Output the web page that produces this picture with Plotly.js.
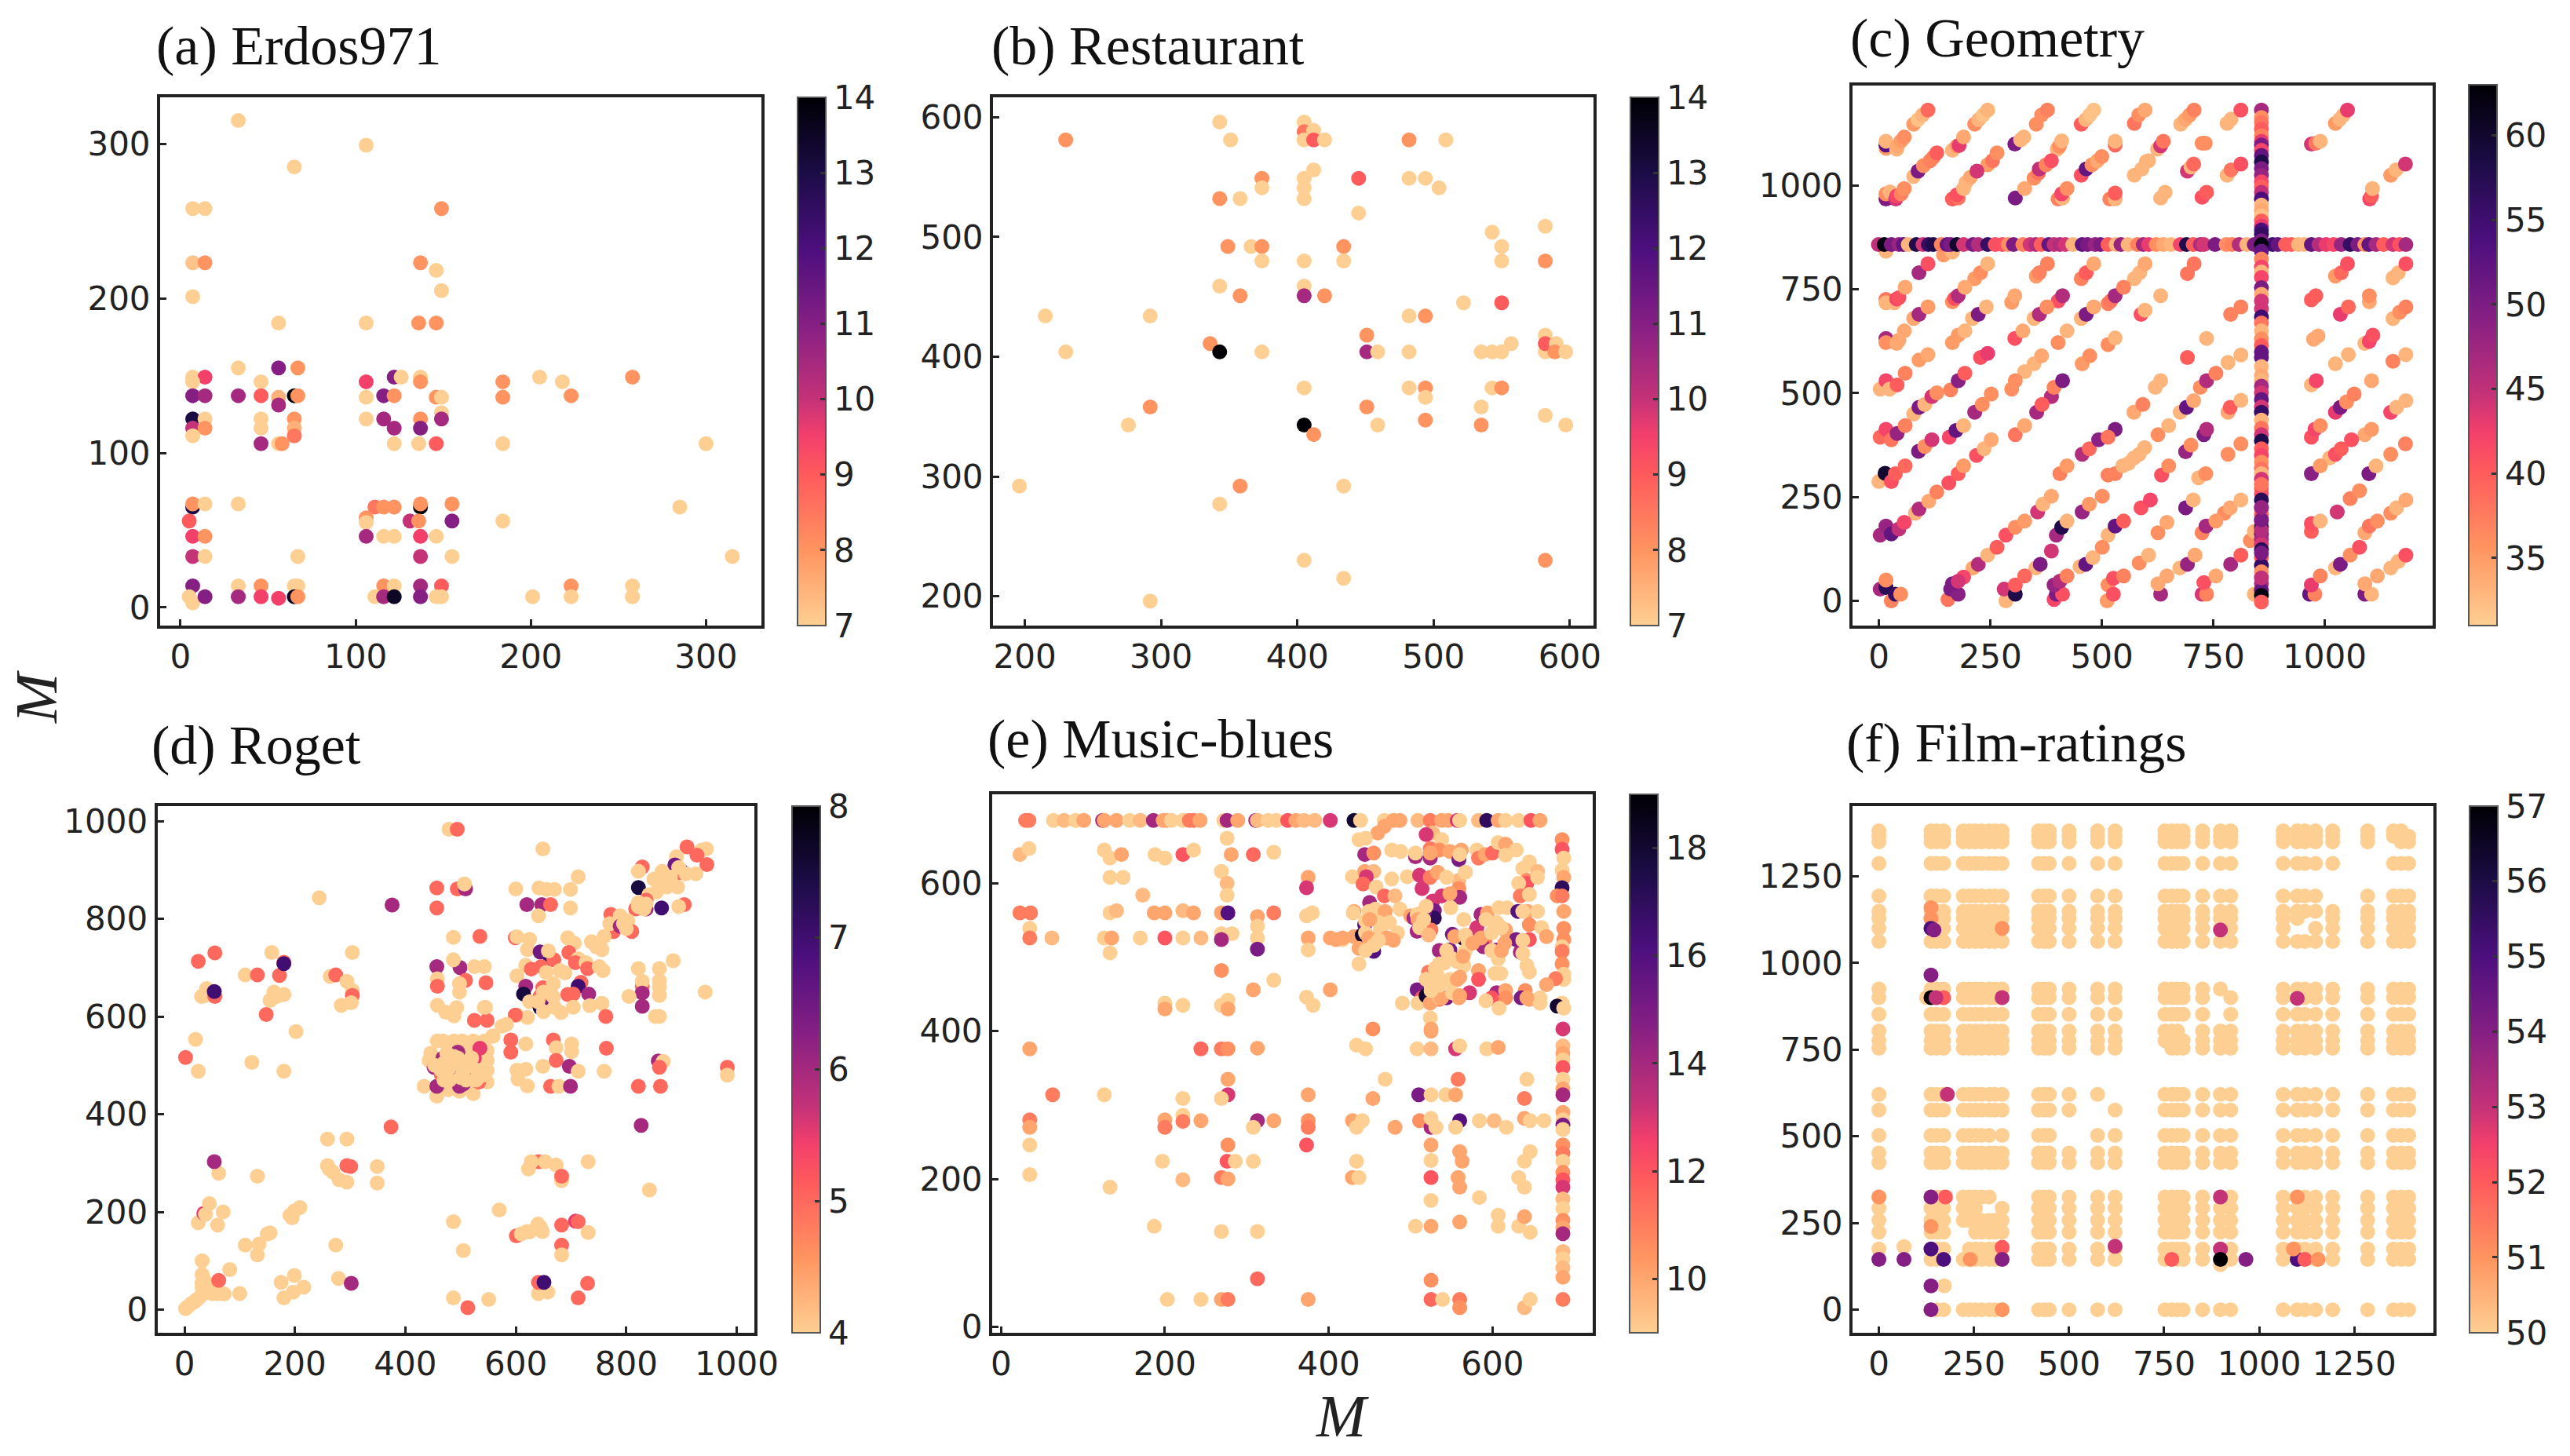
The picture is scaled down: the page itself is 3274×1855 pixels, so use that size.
<!DOCTYPE html>
<html>
<head>
<meta charset="utf-8">
<script src="https://cdn.plot.ly/plotly-3.0.1.min.js"></script>
<style>html,body{margin:0;padding:0;background:#fff}</style>
</head>
<body>
<div id="chart"></div>
<script>
// Values, one inner list per row / strip of points
const aX = [[33],[106],[65],[7,14,149],[7,14,137],[146],[149],[7],[56,106,136,146],[33,56,67],
  [7,14,122,126,137,205,258],[7,46,106,137,184,218],[7,14,33,46,56,65,67,106,116,122,146,149,184,223],[56],[149],
  [7,14,46,65,106,116,137,149],[7,14,46,65,122,137],[7,65],[46,56,58,122,136,146,184,300],
  [7,137,285,7,14,33,137,155,111,116,122],[5,106,106,131,136,155,184],[7,14,106,116,122,137,146],[7,14,67,137,155,315],
  [7,33,46,65,67,116,122,137,149,223,258],[5,7,14,33,46,56,65,67,111,116,122,137,146,149,201,223,258]];
const aY = [[315],[299],[285],[258,258,258],[223,223,223],[218],[205],[201],[184,184,184,184],[155,155,155],
  [149,149,149,149,149,149,149],[146,146,146,146,146,146],[137,137,137,137,136,137,137,136,137,137,136,136,136,137],[131],[126],
  [122,122,122,122,122,122,122,122],[116,116,116,116,116,116],[111,111],[106,106,106,106,106,106,106,106],
  [65,65,65,67,67,67,67,67,65,65,65],[56,58,55,56,56,56,56],[46,46,46,46,46,46,46],[33,33,33,33,33,33],
  [14,14,14,14,14,14,14,14,14,14,14],[7,3,7,7,7,6,7,7,7,7,7,7,7,7,7,7,7]];
const aV = [[7],[7],[7],[7,7,8],[7.2,8,8],[7],[7],[7],[7,7,8,8],[7,11,8],
  [7,9.5,11,7,7,7,8],[7,7,9.5,8,8,7],[11,10.5,10.5,9,7.5,14,8,7,11,8,8,7,8,8],[10.5],[7],
  [13,7,7,8,7,10.5,8,10.5],[10,8,7,7.5,10.5,11],[7,8.5],[10.5,7,8,7,7,9,7,7],
  [13,14,7,8,7,7,8,8,8.5,8,8],[9,8,7,10,8,11,7],[9.5,8,10.5,7,7,9.5,7],[10,7,7,10,7,7],
  [11,7,8,7,7,8,7,10.5,9,8,7],[7,7,11,10.5,9.5,9.5,13.5,8,7,10.5,13.5,11,7,7,7,7,7]];

const bX = [[343,405,405,412,405,412,420,351,230,482,509],[412,374,374,405,405,405,343,358,445,482,494,504,445],
  [543,582,349,366,374,434,550,374,405,434,550,582],[343,405,358,405,420,522,550,215,292,482,494],
  [451,582,336,343,230,374,451,459,482,535,543,550,557,582,582,590,589,597],[405,482,494,543,550,494],
  [292,451,535,582,494,276,405,459,535,597,412],[196,358,434,343,405,582,434,292]];
const bY = [[596,596,588,589,581,581,581,581,581,581,581],[556,549,541,549,541,532,532,532,549,549,549,541,520],
  [504,509,492,492,492,492,492,480,480,480,480,480],[459,459,451,451,451,445,445,434,434,434,434],
  [418,418,411,404,404,404,404,404,404,404,404,404,411,404,411,411,404,404],[374,374,374,374,374,366],
  [358,358,358,351,347,343,343,343,343,343,335],[292,292,292,277,230,230,215,196]];
const bV = [[7,7,8.5,7,7,9,7,7,8,8,7],[7,8,7,7,7,7,8,7,9,7,7,7,7],
  [7,7,8,7,8,8,7,7,7,7,7,8],[7,7,8,10.5,8,7,9,7,7,7,8],
  [8,7,8,14,7,7,10.5,7,7,7,7,7,7,7,9,7,8,7],[7,7,8,7,8,7],
  [8,8,7,7,8,7,14,7,8,7,8],[7,8,7,7,7,8,7,7]];

const cX = [
  [78,88,98,110],[215,224,234,244],[353,365,378],[454,464,473,482],[573,583,597],[677,687,697,707],[781,790,812],[1024,1034,1042,1051],
  [16,16,16],[40,42,50,57],[165,175,180,190],[305,318,325],[400,405,410],[530,530],[625,632,638],[725,732],[970,980,990],
  [78,88,100,115,122,130],[244,255,265],[195,205,220],[348,358,360,375,387],[454,465,478,490,500],[573,590,600,605],[692,700,706],[781,790,812],[1148,1160,1181],
  [16,16,25],[38,40,50,57],[165,178,175,190],[306,327],[402,412,410,422],[518,530,530],[632,642],[725,735],[1101,1105,1107],
  [90,110],[215,228,244],[353,360,378],[454,465,482],[573,585,597],[692,707],[1024,1037,1051],[1153,1165,1182],[145,165,16],
  [16,16,35,40,45,59],[165,170,178,193],[298,305],[402,412],[514,520,530,549],[632],[970,980],[1100,1100],
  [78,90,110],[210,223,241],[348,360,377],[454,465,482],[588,597],[789,812],[1035,1053],[1153,1168,1182],
  [16,16,40,45,57],[165,178,193],[305,323],[402,422],[514,530],[735],[975,985],[1090,1100,1108],
  [90,110],[228,244],[327,348,365],[456,473],[692],[783,812],[1024,1053],[1153,1182],
  [3,16],[24,41,59],[161,178,193],[298,306],[387,393,412],[620,632],[721,735,756],[970,981],[1105],
  [78,90,103,119,130],[215,232,252],[354,366],[572,592],[676,690,706],[783,788,812],[1024,1035,1049,1066],[1148,1161,1182],
  [3,16],[28,41,59],[158,173,190],[306,327],[530],[626,650],[729,735],[970,978,990],[1090,1105],
  [89,103,119],[219,236,252],[456,472,493,514],[560,572,584,596],[688,700],[783,812],[1011,1024,1037,1060],[1148,1181],
  [0,14],[28,37,59],[157,178,190],[406,422],[514,530,547],[634,650],[717,733],[970,990],[1099,1115],
  [82,90,112,130],[356,368,387],[456,472,501],[588,609],[688,705],[775,788,812],[1028,1057,1078],[1148,1161,1182],
  [3,16],[28,45,57],[285,306,327],[398,410,422],[514,530,549],[626,646],[725,734,756],[970,970,990],[1090,1100,1118],
  [211,223,244,265],[352,362,387],[451,464,480,501],[584,605],[675,692,709],[789,812],[833,842],[1024,1035,1057,1078],[1148,1165,1182],
  [3,16,16],[28,37,49],[155,161,178,190,165,178],[285,281,306,306,327],[393,398,412,393,406,422],[512,514,526,526,549],[632,626,646],[725,735,729,756],[842],[966,978,970,990],[1090,1105,1090,1118],
  // horizontal arm of the cross
  [-1,12,28,45,55,66,84,99,111,122,140,153,161,175,190,211,223,244,261,277],
  [290,302,323,339,352,364,381,393,406,418,435,456,468,485,497,514,532,543,559,580],
  [593,605,622,638,655,676,690,705,721,729,754,779,792,808,825,842,858,883,895,912],
  [925,941,954,970,987,1003,1020,1037,1057,1074,1090,1099,1115,1132,1153,1168,1182],
  // vertical arm of the cross
  [858,858,858,858,858,858,858,858,858,858,858,858,858,858,858,858,858,858,858,858],
  [858,858,858,858,858,858,858,858,858,858,858,858,858,858,858,858,858,858,858,858],
  [858,858,858,858,858,858,858,858,858,858,858,858,858,858,858,858,858,858,858,858],
  [858,858,858,858,858,858,858,858,858,858,858,858,858,858,858,858,858,858,858,858],
  [858,858,858,858]
];
const cY = [
  [1148,1159,1170,1182],[1148,1159,1170,1182],[1148,1170,1182],[1148,1159,1170,1182],[1150,1170,1182],[1148,1159,1170,1182],[1150,1160,1182],[1150,1160,1170,1182],
  [1090,1098,1107],[1088,1096,1108,1117],[1085,1095,1097,1117],[1100,1110,1117],[1088,1095,1108],[1098,1107],[1088,1096,1107],[1102,1102],[1100,1102,1107],
  [1022,1035,1048,1060,1068,1079],[1050,1060,1079],[1007,1020,1035],[1018,1030,1040,1050,1060],[1025,1040,1050,1060,1070],[1025,1040,1058,1060],[1035,1045,1052],[1025,1038,1052],[1025,1038,1052],
  [968,980,985],[968,975,980,993],[968,970,978,993],[970,993],[968,970,980,993],[968,968,982],[970,984],[972,984],[968,975,993],
  [790,812],[776,790,812],[782,790,812],[776,790,812],[776,790,812],[788,812],[782,790,812],[778,790,812],[833,840,842],
  [726,718,718,727,730,755],[720,728,735,755],[719,735],[722,735],[716,722,735,755],[735],[725,735],[720,735],
  [680,690,708],[680,690,708],[680,690,708],[680,690,708],[690,700],[690,708],[690,708],[680,695,708],
  [632,622,620,628,650],[622,640,650],[632,650],[622,650],[617,633],[632],[630,638],[620,625,640],
  [580,593],[586,596],[552,571,590],[571,590],[586],[574,592],[571,593],[577,593],
  [510,530],[510,520,548],[508,530,548],[510,530],[492,514,530],[514,530],[514,530,548],[520,530],[530],
  [450,466,473,492,501],[454,473,498],[454,473],[454,473],[454,466,482],[454,466,483],[454,466,479,498],[454,466,482],
  [394,413],[388,403,422],[394,410,422],[400,422],[413],[400,422],[400,413],[394,413,422],[400,413],
  [360,372,388],[350,366,388],[353,366,388,394],[331,344,353,369],[359,375],[353,378],[344,353,366,388],[353,378],
  [287,307],[287,306,325],[284,306,325],[306,325],[303,306,325],[303,325],[296,306],[306,325],[306,325],
  [211,221,240,262],[214,233,252],[214,233,252],[224,243],[224,243],[211,224,243],[214,246,265],[211,224,243],
  [158,180],[161,173,189],[158,177,192],[158,177,192],[158,180,192],[164,189],[164,180,192],[167,186,192],[164,180,192],
  [79,88,110,129],[79,88,120],[82,88,104,129],[91,110],[79,88,110],[88,110],[145,167],[79,88,110,129],[79,95,110],
  [28,32,50],[0,16,16],[3,28,16,57,41,47],[0,28,16,38,60],[3,16,16,38,47,60],[0,38,16,54,60],[16,41,60],[16,16,44,60],[16],[16,16,38,60],[16,16,41,60],
  [858,858,858,858,858,858,858,858,858,858,858,858,858,858,858,858,858,858,858,858],
  [858,858,858,858,858,858,858,858,858,858,858,858,858,858,858,858,858,858,858,858],
  [858,858,858,858,858,858,858,858,858,858,858,858,858,858,858,858,858,858,858,858],
  [858,858,858,858,858,858,858,858,858,858,858,858,858,858,858,858,858],
  [1182,1164,1152,1136,1120,1107,1098,1085,1073,1057,1041,1025,1009,997,984,968,953,940,927,915],
  [902,893,883,867,858,842,823,804,792,779,754,738,722,703,684,669,650,631,615,599],
  [586,564,542,530,517,501,485,467,454,435,416,400,385,366,350,334,318,306,293,271],
  [258,243,224,208,192,177,161,148,136,123,104,85,60,41,25,13,-3,70,115,170],
  [195,225,280,55]
];
const cV = [
  [35,32,33,39],[36,33,32,33],[36,36,37],[40,33,32,32],[38,36,34],[33,34,35,37],[33,33,41],[35,33,33,43],
  [35,53,33],[33,34,35,36],[33,35,43,34],[50,33,33],[33,36,33],[39,33],[33,44,38],[36,36],[44,38,33],
  [33,50,36,37,37,40],[35,38,36],[33,34,44],[36,38,45,37,41],[41,52,36,34,36],[33,33,33,33],[44,33,39],[33,38,41],[35,33,44],
  [50,36,33],[44,42,37,36],[40,38,41,33],[50,34],[37,33,42,36],[37,33,40],[33,33],[41,40],[42,40,33],
  [47,41],[35,36,33],[35,37,37],[37,40,34],[33,33,34],[38,38],[35,39,41],[33,33,41],[35,33,33],
  [38,33,33,42,41,34],[36,41,46,34],[35,34],[41,46],[37,38,47,37],[33],[40,40],[34,36],
  [34,47,35],[33,50,33],[33,46,36],[33,50,34],[41,33],[37,37],[43,39],[33,36,37],
  [47,36,34,34,34],[35,35,33],[41,34],[36,33],[36,33],[33],[34,34],[33,42,41],
  [35,34],[41,43],[33,33,34],[35,36],[40],[33,33],[33,33],[37,33],
  [33,42],[33,40,37],[37,49,40],[36,36],[46,37,50],[33,33],[36,46,37],[33,42],[34],
  [33,50,33,44,36],[47,36,36],[47,40],[34,37],[33,52,34],[34,40,33],[43,50,36,37],[42,33,33],
  [39,42],[38,48,37],[42,52,33],[38,34],[50],[36,33],[50,46],[41,42,36],[34,35],
  [50,36,44],[41,33,34],[46,39,49,38],[33,33,33,33],[48,36],[36,36],[33,41,40,41],[36,37],
  [33,60],[41,40,39],[41,40,35],[37,35],[37,37,33],[41,36],[33,36],[49,35],[50,33],
  [33,46,34,37],[44,33,34],[48,35,36],[41,42],[50,33],[36,34,33],[44,37,36],[36,33,34],
  [47,48],[52,45,42],[41,36,35],[47,58,33],[33,52,40],[36,34],[37,47,35],[40,41,33],[34,38,36],
  [34,46,33,40],[33,50,44],[33,52,33,36],[36,33],[33,48,34],[47,40],[36,33],[33,50,36,41],[33,33,41],
  [47,57,36],[37,56,36],[38,50,49,42,50,44],[33,44,58,40,39],[42,50,41,48,46,37],[35,36,41,41,37],[47,34,34],[44,37,41,34],[33],[52,37,43,37],[50,33,34,34],
  [45,62,50,48,52,33,58,44,56,58,37,52,50,60,44,50,46,56,41,41],
  [36,50,37,44,46,40,52,45,46,44,33,52,50,48,50,40,33,48,33,37],
  [47,43,36,34,33,42,58,40,46,44,50,36,37,46,33,50,62,55,52,40],
  [40,33,33,52,46,43,42,48,56,50,36,52,47,40,44,41,47],
  [47,36,38,40,37,43,50,42,52,58,50,48,42,40,45,54,33,34,32,40],
  [43,54,56,50,62,52,37,42,33,42,50,34,44,44,55,38,33,36,40,52],
  [52,33,34,33,47,44,52,44,56,33,38,44,58,40,42,36,38,33,44,40],
  [41,57,47,40,44,58,52,47,44,57,40,56,33,47,52,62,40,36,50,46],
  [50,48,38,45]
];

const dX = [
  [2,6,12,18,22,28,32,38,50,60,72,100,32,32,35,32,32,45,38,62,82],
  [110,135,132,155,150,60,70,25,35,38,45,62,54,132],
  [191,199,209,195,175,199,180,197,216,274,279,302],
  [259,262,269,280,294,294,301,259,294,349,349,374],
  [2,20,25,122,180,202,25,55,40,37,31,55,54],
  [110,132,158,172,180,180,162,155,170,180,165,148,264,274,294,304,304,284,302,304,244],
  [434,446,458,468,488,503,523,543,558,548,548,548,548,523,498,457,443,464,483,505,515,530,475,495,510,525,478,498,535,520],
  [457,452,468,488,498,508,495,525,533,515,465,535,478,505,490],
  [457,457,376,494,509,507,479,494,457,499,487,535,487,525,543,458,458,509,546,498,498,458,473,488,493,543,525,548],
  [649,600,642,656,670,699,713,620,647,663,641,699],
  [822,829,822,905,895,864,910,945,936,946,928],
  [891,888,903,886,926,865,850,880,874,893,855,841,836,827,817,822,836],
  [772,789,803,810,777,770,789,795,800,760,737,756,746],
  [599,602,625,621,644,663,669,659,694,706,696,713,708,727,730,751,758,822,860,885,943],
  [602,618,628,646],
  [618,614,625,644,659,663,649,644,668,689,680,718,713,732,704,694,756,763,734,682,670,704,602,621],
  [829,829,829,829,805,860,860,860,860,853],
  [599,583,575,559,545],
  [591,591,618,668,673,701,701,764,673,649,697,713,760,602,618,604,621,663,678,699,822,862,858,867,860,983,983,827],
  [570,487,505,487,513,551,601,610,620,625,645,640,648,683,708,713,731,683,683],
  [641,623,628,653,673,683,683,731,842,641,658,713,641,651,730],
  // pale points lying over the coloured ones in the crowded parts
  [470,480,495,505,515,520,530,500,510,480,465,475,495,528,540,453,470,488,512],
  [650,640,655,668,650,895,908,836,832,822,875,860]
];
const dY = [
  [2,6,12,16,20,26,32,35,33,33,32,33,45,55,62,72,100,45,55,60,82],
  [132,134,112,157,155,173,200,178,197,195,217,279,303,273],
  [193,202,209,188,56,70,24,36,46,132,64,54],
  [295,288,281,266,261,295,293,349,349,293,259,374],
  [516,553,488,506,488,569,713,730,657,643,641,641,651],
  [685,685,731,684,711,708,650,633,643,645,640,604,682,685,672,653,643,623,628,731,843],
  [457,525,550,550,550,550,550,550,560,530,510,490,466,442,447,437,510,506,530,520,530,500,480,470,500,480,450,530,520,460],
  [457,496,515,496,457,481,527,515,466,490,481,535,510,462,510],
  [863,822,828,861,861,871,983,983,702,700,762,764,716,702,702,677,662,674,669,667,650,623,609,601,618,618,592,592],
  [943,861,863,860,860,860,886,829,829,829,806,822],
  [864,906,897,829,825,822,947,943,940,911,930],
  [927,910,895,885,892,897,881,885,865,865,855,849,838,828,820,833,820],
  [809,806,796,774,774,790,785,790,780,764,753,737,742],
  [761,763,758,737,732,718,716,734,761,750,731,718,710,710,698,702,694,698,698,714,650],
  [683,705,697,702],
  [662,646,630,618,622,646,659,641,667,689,694,670,662,646,646,645,627,600,622,608,619,619,603,598],
  [662,672,648,621,641,673,643,660,600,600],
  [603,584,580,560,619],
  [552,527,544,552,536,544,528,535,510,498,498,488,488,490,492,472,458,457,457,457,457,457,509,508,496,496,480,377],
  [204,180,121,24,4,21,151,155,160,159,168,175,160,173,181,180,158,132,112],
  [303,288,303,303,296,264,273,303,245,33,36,24,56,56,54],
  [505,495,505,490,505,515,490,475,470,470,490,525,515,470,480,500,470,518,500],
  [650,630,690,640,610,905,892,830,820,825,880,870]
];
const dV = [
  [4,4,4,4,4,4,4,4,4,4,4,4,4,4,4,4,4,4,4,5,4],
  [4,4,4,4,4,4,4,4,5.5,4,4,4,6,4],
  [4,4,4,4,4,4,4,4,4,4,4,6],
  [4,4,4,4,4,5,5,4,4,4,4,5],
  [5,4,4,4,4,4,5,5,4,4,4,5,7],
  [4,5,4,5,5,7,4,4,4,4,4,5,4,5,4,4,5,4,4,4,4],
  [4,4,4,4,4,4,4,4,4,4,4,4,4,4,4,4,4,4,4,4,4,4,4,4,4,4,4,4,4,4],
  [6,6,6,7,6,6,6,5.5,5,5.5,5,5.5,6.5,6,7],
  [5,5,6,5,6,4,4,5,6,6,4,5,4,4,4,4,5,5,5,4,4,4,4,4,4,4,5,5],
  [4,4,4,4,4,4,4,6,6,5,4,4],
  [7.5,5,4,5,4,7,5,4,4,5,5],
  [4,6.5,7,5,4,4,4,4,4,4,4,4,5,7,5,4,6],
  [5,4,4,5,5,4,6,4,4,4,4,4,4],
  [5,4,4,4,6.5,7,5,4,4,4,5,4,5,4,5,4,4,4,4,4,4],
  [4,4,5,5],
  [6,7.5,4,7.5,6.5,6,5,5,4,4,4,5,7,6,5,5,4,5,4,4,4,4,4,4],
  [5,4,6,6,4,4,4,4,4,4],
  [5,4,4,4,4],
  [5,5,4,5,4,4,4,5,5,4,6,4,4,4,4,4,4,5,4,6,5,5,6,4,5,5,4,6],
  [4,4,4,4,5,4,5,4,4,4,4,4,4,5,5.5,5,4,5,4],
  [5,4,4,4,4,4,5,4,4,4,4,5,5,7,5],
  [4,4,4,4,4,4,4,4,4,4,4,4,4,4,4,4,4,4,4],
  [4,4,4,4,4,4,4,4,4,4,4,4]
];

const eX = [
  [30,34,64,77,91,101,124,126,141,157,170,186,198,202,208,222,230,235,243,272,276,289,311,313,326,336,350,360,370,383,402],
  [431,439,468,479,487,509,524,538,546,557,560,583,593,607,616,632,647,658],
  [468,460,437,445,527,519,538],
  [444,455,477,488,506,524,524,535,548,559,562,581,583,591,600,607,616,629,616],
  [685,685,687,685,687,685,679,685],
  [429,444,455,446,442,458,468,481,477,496,511,514,524,533,559,559,560,567,538,527,529,529],
  [645,655,637,642,642,632,634,645,655],
  [450,549,431,444,457,469,487,463,484,479,417,409,431,441,437,455,437],
  [500,504,508,517,525,551,548,565,564,575,581,535,586,594,608,618,591,589,605,618,616,607,631,643,655,645,645,629,660,666,634,637],
  [687,687,687,685,685,685,687,687,677,666,685,679,687],
  [583,583,603,610,642,645],
  [522,530,541,557,565,560,538,508,514,509,519,530,535,544,572,559,524,490,524,525],
  [605,599,616,616,592,608,640,635,645,658,658],
  [23,34,23,36,35,35,62,35,63,35,35,35,35],
  [126,133,147,133,149,173,133,141,126,135,133,170,188,200,187,200,200,222,235,222,235,222,244],
  [276,281,269,276,276,269,277,269,282,269,308,333,333,313,313,313,313,375,373,380,373,375,375,402,417,430,430],
  [269,308,333,402,373,381,200,200,222,269,277,277,454,434,445,244,269,277,313,469,277,510,277,269,222,126,375,454],
  [508,525,555,560,593,607,525,558,642,525,543,555,639],
  [200,200,222,222,244,313,308,333,375,375,429,441,434,481,511,525,525,531,560,555,584,602,617,639,646,663],
  [277,373,525,525,560,563,639,646,276,286,308,197,434],
  [222,269,277,429,437,525,558,560,632,639,133,525,584],
  [187,269,313,506,525,560,607,607,632,639,646],
  [313,525,203,244,269,277,375,525,539,560,560,639,646],
  [686,686,686,686,686,686,686,686,686,686,686,686,686,686,686,686,686,686,686,686,686,686,686,686,686,686,686,686],
  // pale and orange points lying over the coloured ones in the crowded corner
  [445,445,449,455,508,509,511,519,554,567,570,535,538,642,637,637,506,524,560],
  [544,548,516,522,544,567,576,586,599,611,615,599,611,592,605,471,474,461,449,450,461,445],
  [535,551,564,532,548,557,519,525,535,551,560]
];
const eY = [
  [685,685,685,685,685,685,685,685,685,685,685,685,685,685,685,685,685,685,685,685,685,685,685,685,685,685,685,685,685,685,685],
  [685,685,685,685,685,685,685,685,685,685,685,685,685,685,685,685,685,685],
  [677,668,659,661,668,666,659],
  [639,641,645,643,636,647,634,645,643,632,645,645,634,639,641,655,653,645,638],
  [659,646,634,618,608,594,583,583],
  [609,616,616,609,599,595,583,583,606,609,611,593,608,615,604,593,581,615,583,576,563,553],
  [629,616,620,604,600,600,583,585,608],
  [574,567,562,544,565,562,565,537,533,523,524,524,528,530,512,508,491],
  [556,553,535,562,537,531,510,551,526,530,540,509,558,560,567,567,523,514,510,526,537,498,562,562,562,544,524,524,540,528,507,505],
  [562,539,524,514,508,491,477,470,471,463,438,434,431],
  [482,470,478,478,489,480],
  [480,485,492,494,489,473,466,456,445,438,448,447,443,445,452,445,438,438,418,403],
  [452,445,455,445,441,431,455,445,443,445,438],
  [639,647,560,560,539,526,526,376,314,280,270,246,206],
  [645,634,639,608,608,584,560,563,526,526,506,526,639,634,560,560,526,639,645,563,560,526,526],
  [661,639,616,600,584,560,560,532,532,524,639,642,560,555,542,526,511,608,594,560,556,526,510,526,526,560,608],
  [482,456,469,456,446,435,438,430,435,435,442,430,403,381,376,376,376,376,377,335,335,314,314,309,309,314,314,309],
  [376,376,376,380,376,378,400,335,335,314,314,314,309],
  [280,270,286,278,279,279,270,279,279,270,279,279,270,270,279,270,282,270,279,270,279,279,270,282,279,279],
  [246,246,246,225,237,224,224,237,224,224,224,224,224],
  [199,202,200,202,202,202,202,189,202,189,189,171,175],
  [136,129,129,136,136,142,136,151,136,149,128],
  [65,63,37,37,37,37,37,37,37,37,26,26,37],
  [403,380,370,361,351,335,322,314,290,280,273,267,246,235,224,209,199,189,173,160,144,134,126,102,92,80,67,37],
  [549,533,526,516,558,551,540,569,528,530,523,445,445,445,562,523,641,641,639],
  [608,586,551,530,509,509,519,526,533,540,519,509,509,551,547,526,547,547,562,551,523,509],
  [491,498,501,477,470,470,470,455,462,452,448]
];
const eV = [
  [11,11,9,9.5,9,10,14,10,10,9,9.5,14,10,10,9,9,11,11,10,9,14,10,14,9.5,9,9,12,10,9.5,9.5,13],
  [18,9,9,10,10,9.5,11,10,10,13,9,9.5,17,10,9,9,12,10],
  [10,10,9,9,9.5,13,9],
  [14,10.5,9,9,14,11,14,10.5,10,15,10,9,11,10,11.5,9,10,9,9],
  [10.5,12,9,9,10,17,10.5,11],
  [9,10,9.5,13,11.5,9,11.5,9.5,9,9,13,13,11,10,9.5,10.5,14,9,13,13,15,17],
  [9,9.5,9,10.5,12,9,11,9,9],
  [14,9,10,16,9,10,9,9,9,10,9,10,10,18,10,16,9],
  [10,14,14,15,11,15,15,9,18,13,13,14,14,10,9,9,11,14,14,9,10,9,16,10,9,10.5,12,15,9,10,14,9],
  [10,10.5,10.5,9,11,10.5,9,9,11,10,9,18,9],
  [10,12,9,9,9,9],
  [11,9,9,9,9,10,9,15,12,9,18,18,11,15,13,10,10,9,9,10],
  [14,12,10,10.5,9,9,10.5,15,10,9,9],
  [9.5,9,11,11,9,11,9.5,10,11,11,10,9,9],
  [9,9,10,9,9,9.5,9,9.5,9,10,9,9,9,9,10,10,12,12,9,9.5,10,9,9.5],
  [9,10,9,9.5,9,10,16,9,9,14,11.5,9,11,10,9,9,15,10,13,9,9,10,9,10,10,9],
  [10.5,10,9,10,9,9,9,10,9,9,9,10,10.5,9,9,11.5,11,10.5,10,9,10,15,13,9,9,9,10,10],
  [9,9.5,13,9,9,10,10,11,9,9,9,10,11],
  [10,11,9,11,10,14,9,10,10.5,11,10,9,9,10,10.5,14,9,9,16,9,9,9.5,9,10,9,9],
  [10.5,12,10,9,10,10,9,9,12,9,9,9,9],
  [9.5,11,10,10,9,12,10,10,9,9,9,9,9],
  [9,9,9,9,10,10,9,9,9,10,9],
  [11.5,10.5,9,9,10,11,10,11.5,9,11,10.5,9.5,9],
  [13,9.5,10,9,12,9,10,14,10,9,15,9,10.5,11,9,10.5,12,13,9.5,9,10.5,10,14,9.5,9,9.5,10,11],
  [9,9,10,9,9,10,9,9,10,9,9,9.5,10,10,9,9,9,10,9],
  [9,10,9,9.5,9,9,10,10,9,9,10,9,10,9,9,10,9,9,9,10,9,9],
  [9,9,10,9,9,10,9,9,9,9,10]
];

const fCols = [0,137,152,170,222,238,254,270,290,305,324,420,435,448,500,575,621,752,770,785,800,851,898,925,1063,1100,1120,1148,1193,1285,1353,1373,1393];
const fRows = [1381,1365,1349,1287,1193,1149,1128,1100,1062,925,900,852,804,776,754,621,576,503,452,424,325,293,258,224,175,145,0];
const fGapX = [0,0,1393,1353,1285,1193,1120,1148,1100,1120,925,898,898,800,752,621,575,500,305,270,290,305,324,222,238,222,305];
const fGapY = [0,145,1381,1349,1287,1193,1128,1128,1100,1100,925,900,852,804,754,621,576,503,503,293,293,293,325,224,224,175,325];
const fExtraX = [66,172,898,125,137,137,137,145,324,898,137,137,170,150,324,1100,180,0,137,175,898,1100,137,137,324,621,0,66,170,324,240,898,898,965,770,1100,1120,1155,1090,137,137,324];
const fExtraY = [182,69,130,900,1159,1128,1100,1095,1100,1095,965,900,900,900,900,898,621,325,325,325,325,325,240,175,180,183,145,145,145,145,145,175,145,145,145,145,145,145,175,69,0,0];
const fExtraV = [50,50,50,50,51,51,55,54,51,53,54,57,52,53,53,53,53,51,54,52,53,51,51,55,52,53,54,54,55,54,51,53,57,54,52,55,52,51,51,54,54,51];

const pairs = (xs, ys, vs) => {
  const out = { x: [], y: [], v: [] };
  xs.forEach((row, i) => row.forEach((x, j) => {
    if (ys[i][j] === undefined || vs[i][j] === undefined) return;
    out.x.push(x); out.y.push(ys[i][j]); out.v.push(vs[i][j]);
  }));
  return out;
};

// film-ratings: the block pattern, then the few stronger points on top
const fPoints = { x: [], y: [], v: [] };
fRows.forEach(y => fCols.forEach(x => {
  const gap = fGapX.some((g, i) => g === x && fGapY[i] === y);
  if (!gap) { fPoints.x.push(x); fPoints.y.push(y); fPoints.v.push(50); }
}));
fExtraX.forEach((x, i) => { fPoints.x.push(x); fPoints.y.push(fExtraY[i]); fPoints.v.push(fExtraV[i]); });

// magma_r cut off before its pale end, warm part a little stronger as in the picture
const cmap = [[0,'#FECF92'],[0.143,'#FF9460'],[0.286,'#FF5A5C'],[0.36,'#F23F6C'],[0.429,'#C43278'],[0.571,'#851F84'],[0.714,'#4C0F7E'],[0.857,'#1B0C46'],[1,'#000004']];

const W = 3274, H = 1855;
const panels = [
  { name: 'a', pts: pairs(aX, aY, aV), box: [204, 969.5, 124, 797], bar: 1016, xr: [-11.6, 331.4], yr: [-11.7, 330], xt: [0,100,200,300], yt: [0,100,200,300], c: [7,14], ct: [7,8,9,10,11,12,13,14] },
  { name: 'b', pts: pairs(bX, bY, bV), box: [1265, 2030, 124, 797], bar: 2076.5, xr: [176.6, 617.4], yr: [175.5, 616.6], xt: [200,300,400,500,600], yt: [200,300,400,500,600], c: [7,14], ct: [7,8,9,10,11,12,13,14] },
  { name: 'c', pts: pairs(cX, cY, cV), box: [2360, 3099, 108.5, 797], bar: 3145, xr: [-59, 1242], yr: [-59.7, 1242], xt: [0,250,500,750,1000], yt: [0,250,500,750,1000], c: [31,63], ct: [35,40,45,50,55,60] },
  { name: 'd', pts: pairs(dX, dY, dV), box: [200.6, 961, 1026.7, 1697.8], bar: 1009, xr: [-48.9, 1032], yr: [-47, 1031], xt: [0,200,400,600,800,1000], yt: [0,200,400,600,800,1000], c: [4,8], ct: [4,5,6,7,8] },
  { name: 'e', pts: pairs(eX, eY, eV), box: [1264, 2029, 1011.5, 1697.8], bar: 2076, xr: [-10.8, 722.4], yr: [-7.8, 720.9], xt: [0,200,400,600], yt: [0,200,400,600], c: [9,19], ct: [10,12,14,16,18] },
  { name: 'f', pts: fPoints, box: [2360, 3100, 1026.7, 1697.8], bar: 3146, xr: [-69.3, 1458], yr: [-66, 1453], xt: [0,250,500,750,1000,1250], yt: [0,250,500,750,1000,1250], c: [50,57], ct: [50,51,52,53,54,55,56,57] }
];
const titles = [
  ['(a) Erdos971', 198, 58], ['(b) Restaurant', 1262, 58], ['(c) Geometry', 2356, 49],
  ['(d) Roget', 192, 949], ['(e) Music-blues', 1257, 941], ['(f) Film-ratings', 2351, 947]
];

const tickFont = { family: 'DejaVu Sans', size: 42, color: '#222' };
const layout = {
  width: W, height: H,
  margin: { l: 0, r: 0, t: 0, b: 0, autoexpand: false },
  paper_bgcolor: '#fff', plot_bgcolor: '#fff',
  showlegend: false,
  annotations: []
};
const traces = panels.map((p, i) => {
  const n = i === 0 ? '' : String(i + 1);
  const [l, r, t, b] = p.box;
  const axis = (range, ticks, domain, anchor) => ({
    domain, range, anchor, tickmode: 'array', tickvals: ticks, ticks: 'inside', ticklen: 8, tickwidth: 3,
    tickcolor: '#222', showline: true, mirror: true, linewidth: 4, linecolor: '#222',
    showgrid: false, zeroline: false, tickfont: tickFont
  });
  layout['xaxis' + n] = axis(p.xr, p.xt, [l / W, r / W], 'y' + n);
  layout['yaxis' + n] = axis(p.yr, p.yt, [1 - b / H, 1 - t / H], 'x' + n);
  return {
    type: 'scatter', mode: 'markers', x: p.pts.x, y: p.pts.y, xaxis: 'x' + n, yaxis: 'y' + n,
    marker: {
      size: 19, color: p.pts.v, colorscale: cmap, cmin: p.c[0], cmax: p.c[1], line: { width: 0 },
      colorbar: {
        x: p.bar / W, xanchor: 'left', xpad: 0, ypad: 0, y: 1 - b / H, yanchor: 'bottom',
        lenmode: 'fraction', len: (b - t) / H, thicknessmode: 'pixels', thickness: 36,
        outlinecolor: '#555', outlinewidth: 2, borderwidth: 0,
        tickmode: 'array', tickvals: p.ct, ticks: 'inside', ticklen: 8, tickwidth: 2.5, tickcolor: '#333',
        tickfont: tickFont
      }
    }
  };
});
titles.forEach(([text, x, y]) => layout.annotations.push({
  text, xref: 'paper', yref: 'paper', x: x / W, y: 1 - y / H, xanchor: 'left', yanchor: 'middle', showarrow: false,
  borderpad: 0, font: { family: 'Liberation Serif', size: 70, color: '#111' }
}));
const axisLabel = { family: 'Liberation Serif', size: 76, color: '#222' };
layout.annotations.push(
  { text: '<i>M</i>', xref: 'paper', yref: 'paper', x: 1710 / W, y: 1 - 1804 / H, xanchor: 'center', yanchor: 'middle', showarrow: false, font: axisLabel },
  { text: '<i>M</i>', xref: 'paper', yref: 'paper', x: 46 / W, y: 1 - 888 / H, xanchor: 'center', yanchor: 'middle', textangle: -90, showarrow: false, font: axisLabel }
);

Plotly.newPlot('chart', traces, layout, { displayModeBar: false, responsive: false });
</script>
</body>
</html>
